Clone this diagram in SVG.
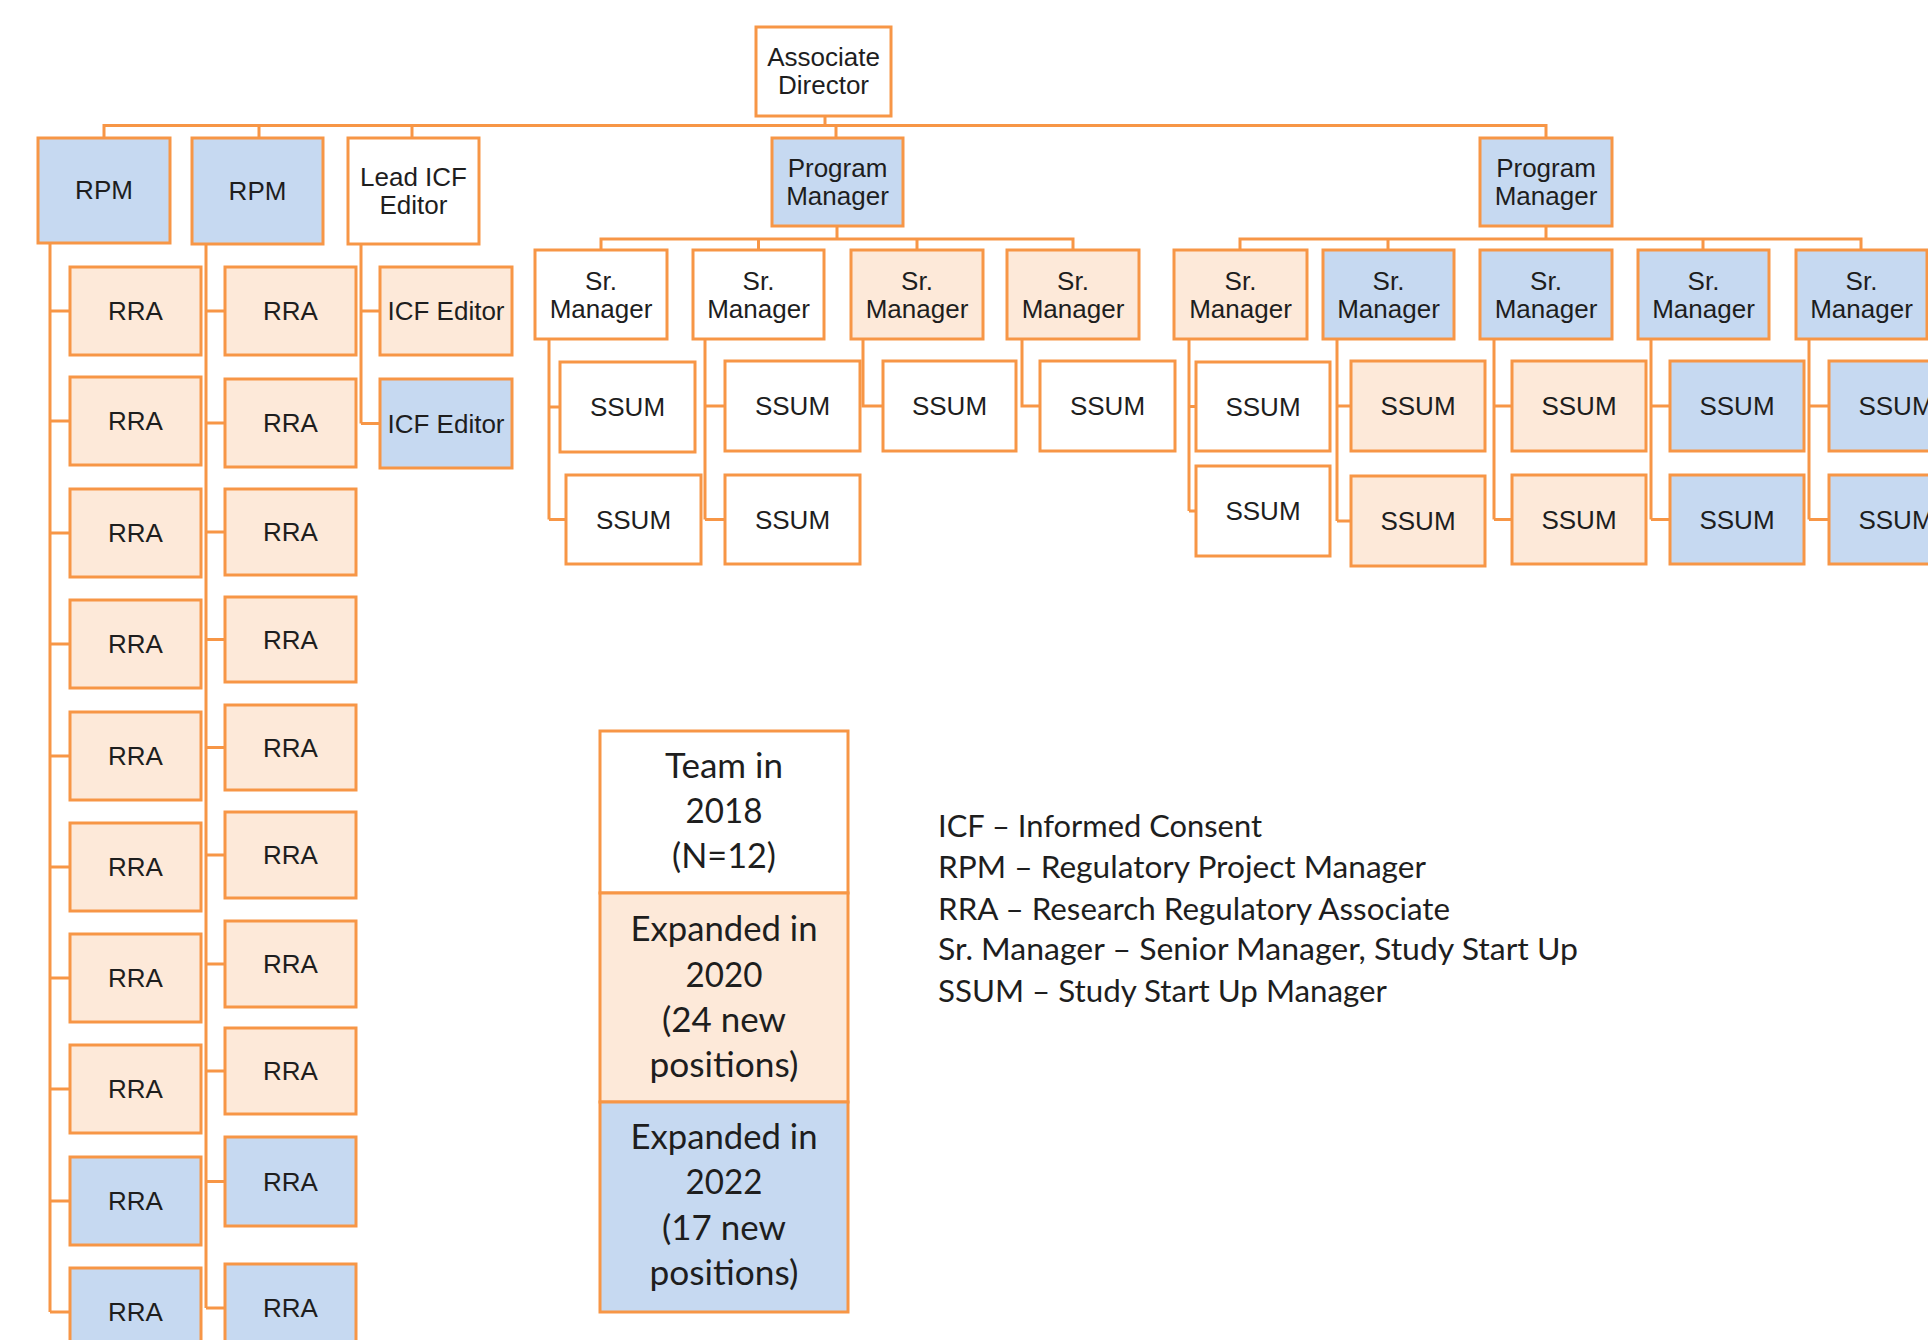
<svg xmlns="http://www.w3.org/2000/svg" width="1928" height="1340" viewBox="0 0 1928 1340">
<style>
.b{stroke:#F79646;stroke-width:3}
.w{fill:#FFFFFF}
.p{fill:#FDE9D9}
.u{fill:#C6D9F1}
.t{font-family:"Liberation Sans",Arial,sans-serif;font-size:26px;fill:#1e1e1e;text-anchor:middle}
.lg{font-family:Lato,"Open Sans",sans-serif;font-size:34px;fill:#1e1e1e;text-anchor:middle}
.ld{font-family:Lato,"Open Sans",sans-serif;font-size:30px;fill:#1e1e1e}
.c{fill:none;stroke:#F79646;stroke-width:3}
</style>
<rect x="0" y="0" width="1928" height="1340" fill="#FFFFFF"/>
<g id="connectors" class="c">
<path d="M825,116V125.5M104,138V125.5H1546V138M259,125.5V138M412,125.5V138M836,125.5V138"/>
<path d="M837,226V239M601,250V239H1073V250M758.5,239V250M917,239V250"/>
<path d="M1546,226V239M1240,250V239H1861V250M1388,239V250M1703,239V250"/>
<path d="M50,243V1312M50,311H70M50,421H70M50,533H70M50,644H70M50,756H70M50,867H70M50,978H70M50,1089H70M50,1201H70M50,1312H70"/>
<path d="M206,244V1308M206,311H225M206,423H225M206,532H225M206,639.5H225M206,747.5H225M206,855H225M206,964H225M206,1071H225M206,1181.5H225M206,1308H225"/>
<path d="M361,244V423.5M361,311H380M361,423.5H380"/>
<path d="M549,339V519.5M549,407H560M549,519.5H566"/>
<path d="M705,339V519.5M705,406H725M705,519.5H725"/>
<path d="M863,339V406H883"/>
<path d="M1022,339V406H1040"/>
<path d="M1189,339V511M1189,406.5H1196M1189,511H1196"/>
<path d="M1337,339V521M1337,406H1351M1337,521H1351"/>
<path d="M1494,339V519.5M1494,406H1512M1494,519.5H1512"/>
<path d="M1651,339V519.5M1651,406H1670M1651,519.5H1670"/>
<path d="M1809,339V519.5M1809,406H1829M1809,519.5H1829"/>
</g>
<g id="associate-director"><rect class="b w" x="756" y="27" width="135" height="89"/><text class="t" x="823.5" y="66">Associate</text><text class="t" x="823.5" y="94">Director</text></g>
<g id="rpm-1"><rect class="b u" x="38" y="138" width="132" height="105"/><text class="t" x="104" y="199">RPM</text></g>
<g id="rpm-2"><rect class="b u" x="192" y="138" width="131" height="106"/><text class="t" x="257.5" y="200">RPM</text></g>
<g id="lead-icf-editor"><rect class="b w" x="348" y="138" width="131" height="106"/><text class="t" x="413.5" y="186">Lead ICF</text><text class="t" x="413.5" y="214">Editor</text></g>
<g id="icf-editor-1"><rect class="b p" x="380" y="267" width="132" height="88"/><text class="t" x="446" y="320">ICF Editor</text></g>
<g id="icf-editor-2"><rect class="b u" x="380" y="379" width="132" height="89"/><text class="t" x="446" y="432.5">ICF Editor</text></g>
<g id="program-manager-1"><rect class="b u" x="772" y="138" width="131" height="88"/><text class="t" x="837.5" y="177">Program</text><text class="t" x="837.5" y="205">Manager</text></g>
<g id="program-manager-2"><rect class="b u" x="1480" y="138" width="132" height="88"/><text class="t" x="1546" y="177">Program</text><text class="t" x="1546" y="205">Manager</text></g>
<g id="rra-1-1"><rect class="b p" x="70" y="267" width="131" height="88"/><text class="t" x="135.5" y="320">RRA</text></g>
<g id="rra-1-2"><rect class="b p" x="70" y="377" width="131" height="88"/><text class="t" x="135.5" y="430">RRA</text></g>
<g id="rra-1-3"><rect class="b p" x="70" y="489" width="131" height="88"/><text class="t" x="135.5" y="542">RRA</text></g>
<g id="rra-1-4"><rect class="b p" x="70" y="600" width="131" height="88"/><text class="t" x="135.5" y="653">RRA</text></g>
<g id="rra-1-5"><rect class="b p" x="70" y="712" width="131" height="88"/><text class="t" x="135.5" y="765">RRA</text></g>
<g id="rra-1-6"><rect class="b p" x="70" y="823" width="131" height="88"/><text class="t" x="135.5" y="876">RRA</text></g>
<g id="rra-1-7"><rect class="b p" x="70" y="934" width="131" height="88"/><text class="t" x="135.5" y="987">RRA</text></g>
<g id="rra-1-8"><rect class="b p" x="70" y="1045" width="131" height="88"/><text class="t" x="135.5" y="1098">RRA</text></g>
<g id="rra-1-9"><rect class="b u" x="70" y="1157" width="131" height="88"/><text class="t" x="135.5" y="1210">RRA</text></g>
<g id="rra-1-10"><rect class="b u" x="70" y="1268" width="131" height="88"/><text class="t" x="135.5" y="1321">RRA</text></g>
<g id="rra-2-1"><rect class="b p" x="225" y="267" width="131" height="88"/><text class="t" x="290.5" y="320">RRA</text></g>
<g id="rra-2-2"><rect class="b p" x="225" y="379" width="131" height="88"/><text class="t" x="290.5" y="432">RRA</text></g>
<g id="rra-2-3"><rect class="b p" x="225" y="489" width="131" height="86"/><text class="t" x="290.5" y="541">RRA</text></g>
<g id="rra-2-4"><rect class="b p" x="225" y="597" width="131" height="85"/><text class="t" x="290.5" y="648.5">RRA</text></g>
<g id="rra-2-5"><rect class="b p" x="225" y="705" width="131" height="85"/><text class="t" x="290.5" y="756.5">RRA</text></g>
<g id="rra-2-6"><rect class="b p" x="225" y="812" width="131" height="86"/><text class="t" x="290.5" y="864">RRA</text></g>
<g id="rra-2-7"><rect class="b p" x="225" y="921" width="131" height="86"/><text class="t" x="290.5" y="973">RRA</text></g>
<g id="rra-2-8"><rect class="b p" x="225" y="1028" width="131" height="86"/><text class="t" x="290.5" y="1080">RRA</text></g>
<g id="rra-2-9"><rect class="b u" x="225" y="1137" width="131" height="89"/><text class="t" x="290.5" y="1190.5">RRA</text></g>
<g id="rra-2-10"><rect class="b u" x="225" y="1264" width="131" height="88"/><text class="t" x="290.5" y="1317">RRA</text></g>
<g id="sr-manager-1"><rect class="b w" x="535" y="250" width="132" height="89"/><text class="t" x="601" y="289.5">Sr.</text><text class="t" x="601" y="317.5">Manager</text></g>
<g id="sr-manager-2"><rect class="b w" x="693" y="250" width="131" height="89"/><text class="t" x="758.5" y="289.5">Sr.</text><text class="t" x="758.5" y="317.5">Manager</text></g>
<g id="sr-manager-3"><rect class="b p" x="851" y="250" width="132" height="89"/><text class="t" x="917" y="289.5">Sr.</text><text class="t" x="917" y="317.5">Manager</text></g>
<g id="sr-manager-4"><rect class="b p" x="1007" y="250" width="132" height="89"/><text class="t" x="1073" y="289.5">Sr.</text><text class="t" x="1073" y="317.5">Manager</text></g>
<g id="sr-manager-5"><rect class="b p" x="1174" y="250" width="133" height="89"/><text class="t" x="1240.5" y="289.5">Sr.</text><text class="t" x="1240.5" y="317.5">Manager</text></g>
<g id="sr-manager-6"><rect class="b u" x="1323" y="250" width="131" height="89"/><text class="t" x="1388.5" y="289.5">Sr.</text><text class="t" x="1388.5" y="317.5">Manager</text></g>
<g id="sr-manager-7"><rect class="b u" x="1480" y="250" width="132" height="89"/><text class="t" x="1546" y="289.5">Sr.</text><text class="t" x="1546" y="317.5">Manager</text></g>
<g id="sr-manager-8"><rect class="b u" x="1638" y="250" width="131" height="89"/><text class="t" x="1703.5" y="289.5">Sr.</text><text class="t" x="1703.5" y="317.5">Manager</text></g>
<g id="sr-manager-9"><rect class="b u" x="1796" y="250" width="131" height="89"/><text class="t" x="1861.5" y="289.5">Sr.</text><text class="t" x="1861.5" y="317.5">Manager</text></g>
<g id="ssum-1a"><rect class="b w" x="560" y="362" width="135" height="90"/><text class="t" x="627.5" y="416">SSUM</text></g>
<g id="ssum-1b"><rect class="b w" x="566" y="475" width="135" height="89"/><text class="t" x="633.5" y="528.5">SSUM</text></g>
<g id="ssum-2a"><rect class="b w" x="725" y="361" width="135" height="90"/><text class="t" x="792.5" y="415">SSUM</text></g>
<g id="ssum-2b"><rect class="b w" x="725" y="475" width="135" height="89"/><text class="t" x="792.5" y="528.5">SSUM</text></g>
<g id="ssum-3"><rect class="b w" x="883" y="361" width="133" height="90"/><text class="t" x="949.5" y="415">SSUM</text></g>
<g id="ssum-4"><rect class="b w" x="1040" y="361" width="135" height="90"/><text class="t" x="1107.5" y="415">SSUM</text></g>
<g id="ssum-5a"><rect class="b w" x="1196" y="362" width="134" height="89"/><text class="t" x="1263" y="415.5">SSUM</text></g>
<g id="ssum-5b"><rect class="b w" x="1196" y="466" width="134" height="90"/><text class="t" x="1263" y="520">SSUM</text></g>
<g id="ssum-6a"><rect class="b p" x="1351" y="361" width="134" height="90"/><text class="t" x="1418" y="415">SSUM</text></g>
<g id="ssum-6b"><rect class="b p" x="1351" y="476" width="134" height="90"/><text class="t" x="1418" y="530">SSUM</text></g>
<g id="ssum-7a"><rect class="b p" x="1512" y="361" width="134" height="90"/><text class="t" x="1579" y="415">SSUM</text></g>
<g id="ssum-7b"><rect class="b p" x="1512" y="475" width="134" height="89"/><text class="t" x="1579" y="528.5">SSUM</text></g>
<g id="ssum-8a"><rect class="b u" x="1670" y="361" width="134" height="90"/><text class="t" x="1737" y="415">SSUM</text></g>
<g id="ssum-8b"><rect class="b u" x="1670" y="475" width="134" height="89"/><text class="t" x="1737" y="528.5">SSUM</text></g>
<g id="ssum-9a"><rect class="b u" x="1829" y="361" width="134" height="90"/><text class="t" x="1896" y="415">SSUM</text></g>
<g id="ssum-9b"><rect class="b u" x="1829" y="475" width="134" height="89"/><text class="t" x="1896" y="528.5">SSUM</text></g>
<g id="legend-key">
<rect class="b w" x="600" y="731" width="248" height="162"/>
<rect class="b p" x="600" y="893" width="248" height="209"/>
<rect class="b u" x="600" y="1102" width="248" height="210"/>
<text class="lg" x="724" y="778" textLength="118" lengthAdjust="spacingAndGlyphs">Team in</text>
<text class="lg" x="724" y="823" textLength="77" lengthAdjust="spacingAndGlyphs">2018</text>
<text class="lg" x="724" y="868" textLength="104" lengthAdjust="spacingAndGlyphs">(N=12)</text>
<text class="lg" x="724" y="941" textLength="187" lengthAdjust="spacingAndGlyphs">Expanded in</text>
<text class="lg" x="724" y="987" textLength="77" lengthAdjust="spacingAndGlyphs">2020</text>
<text class="lg" x="724" y="1032" textLength="124" lengthAdjust="spacingAndGlyphs">(24 new</text>
<text class="lg" x="724" y="1077" textLength="149" lengthAdjust="spacingAndGlyphs">positions)</text>
<text class="lg" x="724" y="1149" textLength="187" lengthAdjust="spacingAndGlyphs">Expanded in</text>
<text class="lg" x="724" y="1194" textLength="77" lengthAdjust="spacingAndGlyphs">2022</text>
<text class="lg" x="724" y="1240" textLength="124" lengthAdjust="spacingAndGlyphs">(17 new</text>
<text class="lg" x="724" y="1285" textLength="149" lengthAdjust="spacingAndGlyphs">positions)</text>
</g>
<g id="abbreviations">
<text class="ld" x="938" y="837" textLength="324" lengthAdjust="spacingAndGlyphs">ICF – Informed Consent</text>
<text class="ld" x="938" y="878" textLength="488" lengthAdjust="spacingAndGlyphs">RPM – Regulatory Project Manager</text>
<text class="ld" x="938" y="920" textLength="512" lengthAdjust="spacingAndGlyphs">RRA – Research Regulatory Associate</text>
<text class="ld" x="938" y="960" textLength="640" lengthAdjust="spacingAndGlyphs">Sr. Manager – Senior Manager, Study Start Up</text>
<text class="ld" x="938" y="1002" textLength="449" lengthAdjust="spacingAndGlyphs">SSUM – Study Start Up Manager</text>
</g>
</svg>
